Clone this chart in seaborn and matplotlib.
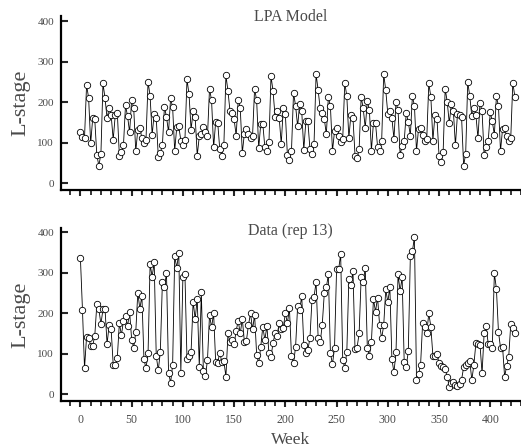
import numpy as np
import matplotlib
matplotlib.use("Agg")
import matplotlib.pyplot as plt
from matplotlib.ticker import MultipleLocator
import seaborn as sns

# Sampling weeks (census every 2 weeks)
weeks = np.arange(0, 426, 2)

# L-stage counts simulated by the LPA model
lpa_model = [
    127, 114, 113, 243, 211, 99, 161, 158, 70, 44,
    73, 247, 211, 161, 186, 168, 108, 169, 175, 69,
    77, 94, 193, 166, 126, 207, 186, 79, 133, 137,
    112, 99, 108, 251, 216, 120, 172, 162, 66, 76,
    94, 189, 164, 127, 210, 188, 80, 139, 141, 106,
    94, 108, 257, 220, 133, 178, 164, 69, 116, 123,
    139, 126, 116, 234, 205, 89, 152, 150, 84, 69,
    95, 267, 228, 178, 175, 158, 118, 207, 186, 75,
    123, 135, 123, 112, 118, 234, 205, 87, 147, 147,
    89, 81, 102,
    265, 228, 164, 178, 162, 98, 186, 172, 70, 58,
    81, 224, 191, 141, 197, 178, 83, 153, 153, 85,
    73, 98, 270, 230, 185, 174, 160, 121, 214, 190,
    80, 129, 137, 116, 102, 109, 249, 215, 112, 170,
    162, 69, 62, 84, 214, 185, 137, 203, 182, 81,
    150, 149, 91, 80, 104, 270, 230, 172, 178, 161,
    110, 200, 181, 71, 92, 104, 174, 152, 118, 215,
    192, 80, 135, 137, 120, 106, 109, 247, 214, 106,
    168, 160, 69, 52, 77, 234, 201, 149, 195, 178,
    94, 172, 168, 164, 44, 73, 251, 215, 166, 186,
    168, 112, 199, 178, 70, 89, 104, 176, 153, 120,
    215, 191, 80, 135, 137, 116, 104, 112, 249, 214,
]

# Observed L-stage counts, replicate 13
data_rep13 = [
    336, 208, 64, 142, 139, 120, 120, 144, 222, 210,
    173, 210, 211, 124, 170, 160, 72, 73, 90, 176,
    146, 181, 194, 168, 204, 135, 115, 153, 251, 211,
    243, 86, 64, 101, 321, 291, 326, 94, 59, 105,
    277, 264, 300, 53, 28, 72, 341, 313, 350, 53,
    289, 297, 88, 94, 105, 229, 186, 236, 68, 252,
    57, 45, 84, 196, 165, 200, 79, 78, 102, 80,
    82, 43, 150, 128, 135, 123, 157, 181, 150, 186,
    130, 132, 171, 200, 160, 196, 97, 76, 117, 167,
    134, 168, 101, 92,
    127, 150, 144, 177, 162, 164, 200, 176, 212, 94,
    76, 117, 218, 208, 243, 121, 101, 110, 138, 234,
    241, 277, 140, 128, 171, 249, 264, 296, 101, 74,
    115, 309, 309, 346, 84, 65, 105, 285, 269, 305,
    111, 115, 150, 289, 277, 312, 115, 94, 129, 235,
    204, 239, 171, 138, 170, 259, 228, 264, 86, 54,
    103, 296, 255, 289, 80, 68, 106, 341, 353, 389,
    36, 49, 73, 177, 167, 150, 200, 167, 95, 94,
    99, 76, 69, 68, 61, 43, 18, 28, 31, 22,
    21, 26, 36, 66, 72, 78, 82, 35, 72, 127,
    125, 122, 51, 150, 169, 124, 124, 115, 299, 261,
    154, 115, 117, 43, 69, 92, 173, 164, 150,
]

panel_titles = ["LPA Model", "Data (rep 13)"]
y_ticks = [0, 100, 200, 300, 400]
x_ticks = [0, 50, 100, 150, 200, 250, 300, 350, 400]

assert len(lpa_model) == len(weeks) and len(data_rep13) == len(weeks)

sns.set_style("ticks")
plt.rcParams["font.family"] = ["Liberation Serif", "DejaVu Serif"]

fig = plt.figure(figsize=(5.21, 4.48), dpi=100)
ax_top = fig.add_axes([0.117, 0.576, 0.883, 0.389])
ax_bot = fig.add_axes([0.117, 0.105, 0.883, 0.386])

text_grey = "#4a4a4a"

panels = [
    (ax_top, lpa_model, panel_titles[0], (-16, 414), 411),
    (ax_bot, data_rep13, panel_titles[1], (-17, 411), 403),
]

for ax, values, title, ylim, title_y in panels:
    sns.lineplot(
        x=weeks, y=values, ax=ax, color="black", linewidth=0.6,
        marker="o", markersize=4.6, markerfacecolor="white",
        markeredgecolor="black", markeredgewidth=0.6, sort=False,
    )
    ax.set_xlim(-19, 430)
    ax.set_ylim(*ylim)
    ax.set_yticks(y_ticks)
    ax.set_xticks(x_ticks)
    ax.xaxis.set_minor_locator(MultipleLocator(10))
    for side in ("top", "right"):
        ax.spines[side].set_visible(False)
    for side in ("left", "bottom"):
        ax.spines[side].set_linewidth(1.6)
        ax.spines[side].set_color("black")
    ax.tick_params(axis="y", direction="in", length=5, width=1.5,
                   labelsize=8, labelcolor=text_grey, pad=5)
    ax.tick_params(axis="x", which="major", direction="out", length=4.5,
                   width=1.5, labelsize=8.5, labelcolor=text_grey, pad=5)
    ax.tick_params(axis="x", which="minor", direction="out", length=3.5,
                   width=1.3)
    ax.set_ylabel("L-stage", fontsize=16, color=text_grey, labelpad=5)
    ax.set_xlabel("")
    ax.text(205, title_y, title, ha="center", va="center",
            fontsize=11.5, color=text_grey)

ax_top.tick_params(axis="x", labelbottom=False)
ax_bot.set_xlabel("Week", fontsize=12.5, color=text_grey, labelpad=4)

fig.savefig("out.png", dpi=100)
